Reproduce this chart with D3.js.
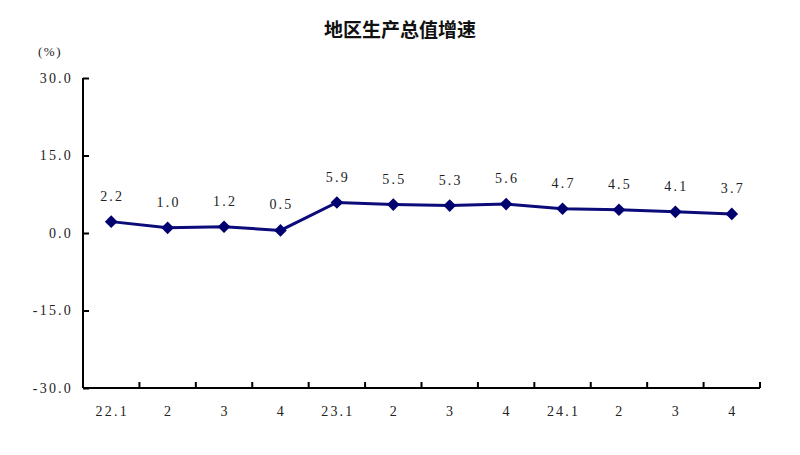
<!DOCTYPE html>
<html>
<head>
<meta charset="utf-8">
<title>地区生产总值增速</title>
<script src="https://d3js.org/d3.v7.min.js"></script>
<style>
  body { margin: 0; background: #fff; }
  text { font-family: "Liberation Serif", "DejaVu Serif", serif; fill: #222; }
</style>
</head>
<body>
<script>
    // data
    var categories = ["22.1", "2", "3", "4", "23.1", "2", "3", "4", "24.1", "2", "3", "4"];
    var values = [2.2, 1.0, 1.2, 0.5, 5.9, 5.5, 5.3, 5.6, 4.7, 4.5, 4.1, 3.7];
    var yTicks = [-30, -15, 0, 15, 30];

    var w = 800, h = 455;
    var plotL = 83, plotR = 760, plotT = 78, plotB = 388;

    var svg = d3.select("body").append("svg")
                .attr("width", w)
                .attr("height", h);

    // 标题
    svg.append("text")
        .attr("x", 400).attr("y", 37)
        .attr("text-anchor", "middle")
        .style("font-family", "'Noto Sans CJK SC', sans-serif")
        .style("font-weight", "bold")
        .style("font-size", "19px")
        .style("fill", "#111")
        .text("地区生产总值增速");

    svg.append("text")
        .attr("x", 38).attr("y", 56)
        .style("font-size", "13px").style("letter-spacing", "1.5px")
        .text("(%)");

    var idx = categories.map(function(d, i) { return i; });
    var x = d3.scaleBand().domain(idx).range([plotL, plotR]);
    var y = d3.scaleLinear().domain([-30, 30]).range([plotB, plotT]);

    // 用普通连字符作负号
    var fmt = function(d) { return d3.format(".1f")(d).replace("\u2212", "-"); };

    // y轴
    var yAxis = svg.append("g")
        .attr("transform", "translate(" + plotL + ",0)")
        .call(d3.axisRight(y).tickValues(yTicks).tickSize(6).tickFormat(fmt));
    yAxis.select(".domain").attr("stroke", "#000").attr("stroke-width", 2).attr("d", "M0," + plotT + "V" + plotB);
    yAxis.selectAll(".tick line").attr("stroke", "#000").attr("stroke-width", 2);
    yAxis.selectAll(".tick text")
        .attr("x", -10).attr("text-anchor", "end")
        .style("font-size", "14px").style("letter-spacing", "2.2px")
        .style("font-family", "'Liberation Serif', serif").attr("fill", "#222");

    // x轴
    var tickPos = idx.map(function(i) { return x(i); }).concat([plotR]);
    var xAxisG = svg.append("g").attr("transform", "translate(0," + plotB + ")");
    xAxisG.append("line").attr("x1", plotL).attr("x2", plotR)
        .attr("stroke", "#000").attr("stroke-width", 2);
    xAxisG.selectAll("line.tk").data(tickPos.slice(1)).enter().append("line")
        .attr("class", "tk")
        .attr("x1", function(d) { return d; }).attr("x2", function(d) { return d; })
        .attr("y1", 0).attr("y2", -6)
        .attr("stroke", "#000").attr("stroke-width", 2);
    xAxisG.selectAll("text").data(categories).enter().append("text")
        .attr("x", function(d, i) { return x(i) + x.bandwidth() / 2 + 1; })
        .attr("y", 28)
        .attr("text-anchor", "middle")
        .style("font-size", "14px").style("letter-spacing", "2.2px")
        .text(function(d) { return d; });

    // 折线
    var cx = function(d, i) { return x(i) + x.bandwidth() / 2; };
    var line = d3.line()
        .x(cx)
        .y(function(d) { return y(d); });
    svg.append("path")
        .datum(values)
        .attr("fill", "none")
        .attr("stroke", "#0b0b7a")
        .attr("stroke-width", 3)
        .attr("d", line);

    var diamond = d3.symbol().type(d3.symbolSquare).size(80);
    svg.selectAll("path.pt").data(values).enter().append("path")
        .attr("class", "pt")
        .attr("d", diamond)
        .attr("transform", function(d, i) { return "translate(" + cx(d, i) + "," + y(d) + ") rotate(45)"; })
        .attr("fill", "#000070");

    // 数值标签
    svg.selectAll("text.lbl").data(values).enter().append("text")
        .attr("class", "lbl")
        .attr("x", function(d, i) { return cx(d, i) + 1; })
        .attr("y", function(d) { return y(d) - 21; })
        .attr("text-anchor", "middle")
        .style("font-size", "14px").style("letter-spacing", "2.2px")
        .text(fmt);
</script>
</body>
</html>
